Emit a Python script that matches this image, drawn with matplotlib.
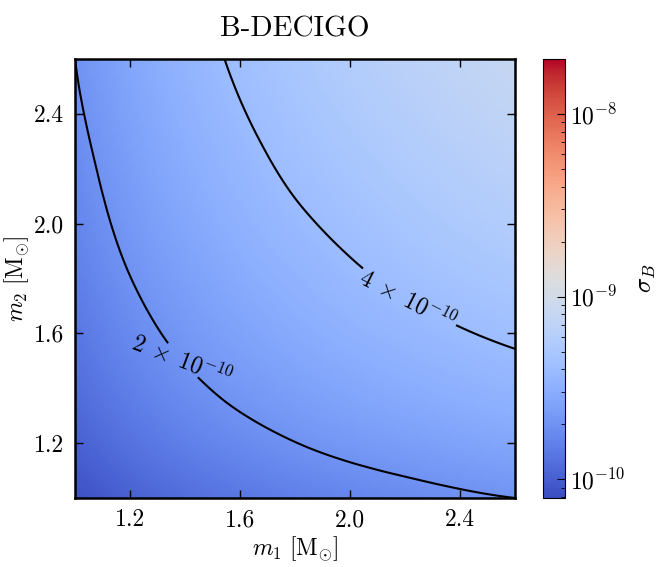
import numpy as np
import matplotlib
matplotlib.use("Agg")
import matplotlib.pyplot as plt
import matplotlib.tri as mtri
from matplotlib.colors import LogNorm
from matplotlib.ticker import NullFormatter

plt.rcParams["font.family"] = "serif"
plt.rcParams["font.serif"] = ["cmr10", "DejaVu Serif"]
plt.rcParams["mathtext.fontset"] = "cm"
plt.rcParams["axes.formatter.use_mathtext"] = True

# component masses on the grid [M_sun]
m1_vals = [1.0, 1.2, 1.4, 1.6, 1.8, 2.0, 2.2, 2.4, 2.6]
m2_vals = [1.0, 1.2, 1.4, 1.6, 1.8, 2.0, 2.2, 2.4, 2.6]

# sigma_B in units of 1e-10, rows = m2, columns = m1
sigma_rows = [
    [0.84, 1.03, 1.21, 1.37, 1.52, 1.66, 1.78, 1.90, 2.00],
    [1.03, 1.29, 1.54, 1.77, 1.99, 2.19, 2.37, 2.55, 2.71],
    [1.21, 1.54, 1.86, 2.17, 2.45, 2.73, 2.99, 3.23, 3.45],
    [1.37, 1.77, 2.17, 2.55, 2.92, 3.27, 3.60, 3.92, 4.22],
    [1.52, 1.99, 2.45, 2.92, 3.36, 3.80, 4.22, 4.61, 4.99],
    [1.66, 2.19, 2.73, 3.27, 3.80, 4.31, 4.81, 5.30, 5.76],
    [1.78, 2.37, 2.99, 3.60, 4.22, 4.81, 5.40, 5.97, 6.52],
    [1.90, 2.55, 3.23, 3.92, 4.61, 5.30, 5.97, 6.63, 7.28],
    [2.00, 2.71, 3.45, 4.22, 4.99, 5.76, 6.52, 7.28, 8.01],
]
sigma_scale = 1e-10

contour_levels = [2e-10, 4e-10]
contour_names = {2e-10: r"$\mathit{2}\;\times\;\mathit{10}^{-\mathit{10}}$",
                 4e-10: r"$\mathit{4}\;\times\;\mathit{10}^{-\mathit{10}}$"}
ticks = [1.2, 1.6, 2.0, 2.4]

M1, M2 = np.meshgrid(m1_vals, m2_vals)
sigma = np.array(sigma_rows) * sigma_scale

# smooth the grid with matplotlib's triangulation refiner (in log space)
tri = mtri.Triangulation(M1.ravel(), M2.ravel())
refiner = mtri.UniformTriRefiner(tri)
tri_f, logs_f = refiner.refine_field(np.log10(sigma).ravel(), subdiv=4)
sig_f = 10 ** logs_f

fig = plt.figure(figsize=(6.64, 5.67), dpi=100)
ax = fig.add_axes([0.113, 0.1217, 0.6627, 0.7743])
cax = fig.add_axes([0.8178, 0.1217, 0.0331, 0.7743])

norm = LogNorm(vmin=7.9e-11, vmax=2.0e-8)
tpc = ax.tripcolor(tri_f, sig_f, cmap="coolwarm", norm=norm, shading="gouraud")

# one contour set per level so each label gets its own gap and angle
label_pos = [(1.39, 1.50), (2.22, 1.74)]
label_gap = [-30, 2]
label_rot = [-21, -27]
for lev, pos, gap, rot in zip(contour_levels, label_pos, label_gap, label_rot):
    cs = ax.tricontour(tri_f, sig_f, levels=[lev], colors="k", linewidths=1.5)
    txts = ax.clabel(cs, fmt=contour_names, fontsize=17, inline=True,
                     inline_spacing=gap, manual=[pos])
    for t in txts:
        t.set_rotation(rot)

ax.set_xlim(1.0, 2.6)
ax.set_ylim(1.0, 2.6)
ax.set_xticks(ticks)
ax.set_yticks(ticks)
ax.set_xticklabels(["%.1f" % t for t in ticks])
ax.set_yticklabels(["%.1f" % t for t in ticks])
ax.tick_params(direction="in", top=True, right=True, length=6, width=1,
               labelsize=17, pad=8)
for sp in ax.spines.values():
    sp.set_linewidth(1.8)
ax.set_xlabel(r"$m_1\ [\mathrm{M}_{\odot}]$", fontsize=17, labelpad=2)
ax.set_ylabel(r"$m_2\ [\mathrm{M}_{\odot}]$", fontsize=17, labelpad=2)
ax.set_title("B-DECIGO", fontsize=21, pad=16)

cb = fig.colorbar(tpc, cax=cax)
cb.ax.yaxis.set_minor_formatter(NullFormatter())
cb.ax.tick_params(which="both", direction="in", labelsize=17)
cb.ax.tick_params(which="major", length=6)
cb.ax.tick_params(which="minor", length=3)
cb.outline.set_linewidth(0.8)
cb.set_label(r"$\sigma_B$", fontsize=18, labelpad=8)

fig.savefig("out.png", dpi=100)
